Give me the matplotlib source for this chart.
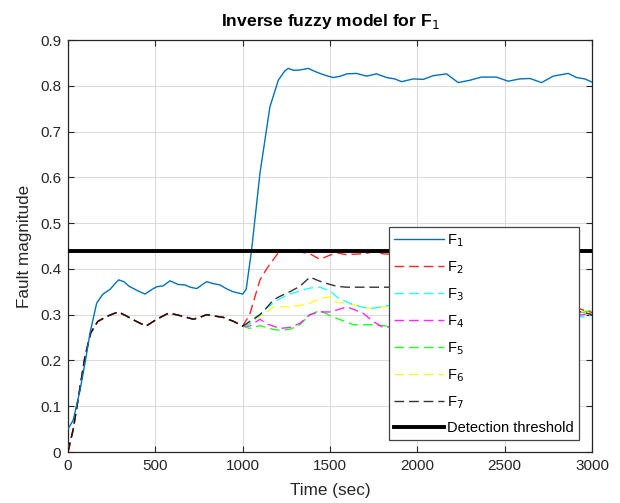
import matplotlib
matplotlib.use("Agg")
import matplotlib.pyplot as plt

plt.rcParams['font.family'] = ['Liberation Sans', 'DejaVu Sans']

# ---- data ----
t_f1 = [0, 30, 69, 100, 126, 164, 200, 240, 270, 290, 320, 350, 400, 441, 480, 508, 545,
        584, 630, 670, 700, 737, 770, 794, 830, 870, 910, 946, 1000, 1020, 1051, 1099,
        1156, 1204, 1240, 1261, 1290, 1318, 1350, 1375, 1410, 1442, 1480, 1519, 1560,
        1595, 1652, 1709, 1766, 1824, 1870, 1910, 1977, 2034, 2091, 2167, 2234, 2300,
        2367, 2453, 2520, 2587, 2644, 2711, 2778, 2864, 2912, 2959, 3000]
f1 = [0.05, 0.07, 0.135, 0.20, 0.26, 0.325, 0.345, 0.355, 0.368, 0.376, 0.372, 0.362,
      0.352, 0.345, 0.355, 0.361, 0.363, 0.374, 0.366, 0.365, 0.36, 0.357, 0.366, 0.372,
      0.368, 0.365, 0.356, 0.35, 0.345, 0.355, 0.441, 0.609, 0.754, 0.812, 0.832, 0.838,
      0.834, 0.834, 0.836, 0.838, 0.832, 0.827, 0.822, 0.818, 0.821, 0.826, 0.827,
      0.821, 0.826, 0.818, 0.815, 0.809, 0.815, 0.814, 0.822, 0.826, 0.807, 0.812,
      0.819, 0.819, 0.810, 0.815, 0.816, 0.807, 0.821, 0.827, 0.818, 0.815, 0.808]

# common part of F2..F7 before the fault (same trace)
t_pre = [0, 30, 60, 97, 130, 170, 221, 260, 288, 330, 393, 447, 508, 574, 620, 661,
         718, 760, 794, 840, 890, 950, 1000]
pre = [0.0, 0.05, 0.12, 0.208, 0.26, 0.285, 0.296, 0.302, 0.306, 0.298, 0.285, 0.275,
       0.290, 0.303, 0.300, 0.296, 0.290, 0.295, 0.300, 0.297, 0.294, 0.285, 0.275]

t_post = [1040, 1099, 1137, 1175, 1213, 1270, 1328, 1385, 1442, 1500, 1538, 1595, 1633,
          1690, 1747, 1804, 1850, 2000, 2200, 2400, 2600, 2800, 2950, 3000]
f2 = [0.30, 0.376, 0.40, 0.42, 0.44, 0.44, 0.437, 0.433, 0.421, 0.43, 0.435, 0.431,
      0.432, 0.433, 0.437, 0.433, 0.432, 0.43, 0.42, 0.40, 0.37, 0.33, 0.31, 0.305]
f3 = [0.28, 0.30, 0.315, 0.325, 0.335, 0.345, 0.352, 0.358, 0.36, 0.352, 0.339,
      0.328, 0.322, 0.316, 0.314, 0.318, 0.321, 0.32, 0.315, 0.31, 0.305, 0.30, 0.295, 0.30]
f4 = [0.275, 0.29, 0.28, 0.275, 0.27, 0.272, 0.281, 0.30, 0.306, 0.306, 0.31, 0.317,
      0.312, 0.303, 0.285, 0.272, 0.274, 0.28, 0.285, 0.29, 0.292, 0.295, 0.30, 0.305]
f5 = [0.27, 0.276, 0.272, 0.268, 0.266, 0.268, 0.278, 0.30, 0.309, 0.298, 0.292, 0.284,
      0.278, 0.278, 0.278, 0.276, 0.274, 0.28, 0.285, 0.29, 0.295, 0.30, 0.305, 0.31]
f6 = [0.28, 0.297, 0.305, 0.317, 0.317, 0.317, 0.32, 0.325, 0.335, 0.339, 0.327,
      0.325, 0.322, 0.316, 0.313, 0.317, 0.318, 0.316, 0.312, 0.31, 0.308, 0.305, 0.31, 0.30]
f7 = [0.285, 0.30, 0.315, 0.332, 0.34, 0.35, 0.362, 0.382, 0.373, 0.366, 0.362, 0.36,
      0.36, 0.36, 0.36, 0.36, 0.36, 0.36, 0.355, 0.345, 0.33, 0.315, 0.305, 0.30]

threshold = 0.44

labels = ['F$_1$', 'F$_2$', 'F$_3$', 'F$_4$', 'F$_5$', 'F$_6$', 'F$_7$', 'Detection threshold']
xticks = [0, 500, 1000, 1500, 2000, 2500, 3000]
yticks = [0, 0.1, 0.2, 0.3, 0.4, 0.5, 0.6, 0.7, 0.8, 0.9]
yticklabels = ['0', '0.1', '0.2', '0.3', '0.4', '0.5', '0.6', '0.7', '0.8', '0.9']

# ---- figure ----
fig = plt.figure(figsize=(6.2, 5.03), dpi=100)
ax = fig.add_axes([68 / 620, 51 / 503, 524 / 620, 412 / 503])

tc = '#262626'
dash = (0, (7, 3.5))

ax.plot(t_f1, f1, color='#0072BD', lw=1.0, label=labels[0], zorder=5)
series = [f2, f3, f4, f5, f6, f7]
colors = ['#FF0000', '#00FFFF', '#FF00FF', '#00FF00', '#FFFF00', '#000000']
for i, (s, c) in enumerate(zip(series, colors)):
    is_k = c == '#000000'
    ax.plot(t_pre + t_post, pre + s, color=c, lw=1.0, linestyle=dash,
            label=labels[i + 1], zorder=4.5 if is_k else 4 - 0.1 * i,
            alpha=0.8 if is_k else 0.85)
ax.axhline(threshold, color='black', lw=2.8, label=labels[7], zorder=6)

ax.set_xlim(0, 3000)
ax.set_ylim(0, 0.9)
ax.set_xticks(xticks)
ax.set_yticks(yticks)
ax.set_yticklabels(yticklabels)
ax.grid(True, color='#DCDCDC', lw=0.8)
ax.set_axisbelow(True)
ax.tick_params(direction='in', top=True, right=True, colors=tc, labelsize=11,
               length=4.5, width=0.8, pad=5)
for sp in ax.spines.values():
    sp.set_color(tc)
    sp.set_linewidth(0.9)

ax.set_xlabel('Time (sec)', fontsize=12.3, color=tc, labelpad=7)
ax.set_ylabel('Fault magnitude', fontsize=12.3, color=tc, labelpad=6)
ax.set_title('Inverse fuzzy model for F$_1$', fontsize=12.6, fontweight='bold', pad=10)

leg = ax.legend(loc='lower right', bbox_to_anchor=(0.9758, 0.0291), borderaxespad=0,
                fontsize=10.5, handlelength=3.4, handletextpad=0.27, labelspacing=0.7,
                fancybox=False, framealpha=1, edgecolor='#444444', borderpad=0.35)
leg.get_frame().set_linewidth(0.9)
leg.set_zorder(10)

fig.savefig('out.png', dpi=100)
